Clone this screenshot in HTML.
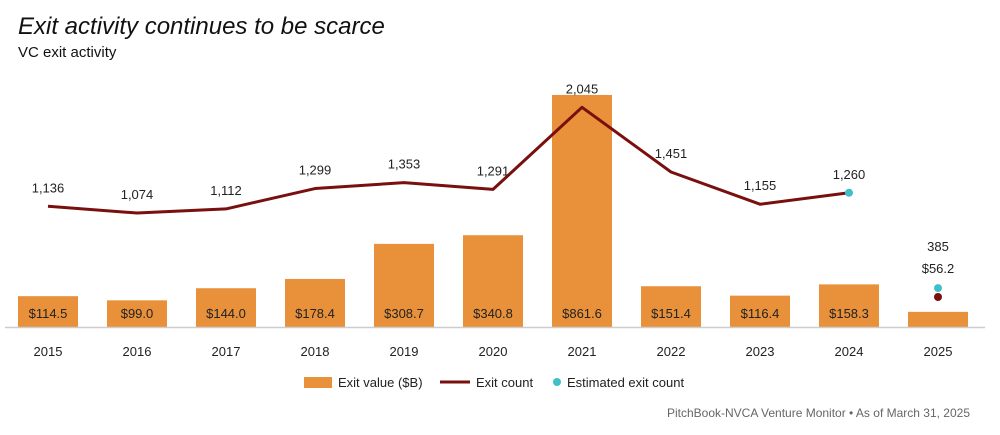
<!DOCTYPE html>
<html><head><meta charset="utf-8"><style>
body{margin:0;background:#fff;font-family:"Liberation Sans",sans-serif;}
#c{position:relative;width:1000px;height:435px;overflow:hidden}
</style></head><body>
<div id="c">
<svg id="s" width="1000" height="435" xmlns="http://www.w3.org/2000/svg">
<text x="18" y="34" font-size="24" font-style="italic" fill="#111">Exit activity continues to be scarce</text>
<text x="18" y="57" font-size="15" fill="#111">VC exit activity</text>
<g id="bars"></g><g id="line"></g><g id="labels"></g>
<line x1="5" x2="985" y1="327.5" y2="327.5" stroke="#ccc" stroke-width="1.5"/>
<g>
<rect x="304" y="377" width="28" height="11" fill="#E8913A"/>
<text x="338" y="387" font-size="13" fill="#222">Exit value ($B)</text>
<line x1="440" x2="470" y1="382" y2="382" stroke="#7A0F0F" stroke-width="3"/>
<text x="476" y="387" font-size="13" fill="#222">Exit count</text>
<circle cx="557" cy="382" r="4" fill="#3FC0C8"/>
<text x="567" y="387" font-size="13" fill="#222">Estimated exit count</text>
</g>
<text x="970" y="417" font-size="12" fill="#666" text-anchor="end">PitchBook-NVCA Venture Monitor  •  As of March 31, 2025</text>
</svg></div>
<script>
const years=["2015","2016","2017","2018","2019","2020","2021","2022","2023","2024","2025"];
const exitValues=[114.5,99.0,144.0,178.4,308.7,340.8,861.6,151.4,116.4,158.3,56.2];
const exitCounts=[1136,1074,1112,1299,1353,1291,2045,1451,1155,1260];
const estimatedCount=[385];
const actualCount2025=[303];
const NS="http://www.w3.org/2000/svg";
const base=327, zero=330;
const xPos=i=>48+i*89;
const yVal=v=>base-v*0.2693;
const yCnt=v=>zero-v*0.1089;
function mk(t,a,p){const e=document.createElementNS(NS,t);for(const k in a)e.setAttribute(k,a[k]);document.getElementById(p).appendChild(e);return e;}
years.forEach((y,i)=>{
 const r=mk('rect',{x:xPos(i)-30,y:yVal(exitValues[i]),width:60,height:base-yVal(exitValues[i]),fill:'#E8913A'},'bars');
 
 
 const yl=mk('text',{x:xPos(i),y:356,'font-size':13,'text-anchor':'middle',fill:'#222'},'labels');
 yl.textContent=y;
 
 
 if(i<10){
  const vl=mk('text',{x:xPos(i),y:318,'font-size':13,'text-anchor':'middle',fill:'#222'},'labels');
  vl.textContent='$'+exitValues[i].toFixed(1);
  
  
 }
});
const pts=exitCounts.map((v,i)=>xPos(i)+','+yCnt(v)).join(' ');
const pl=mk('polyline',{points:pts,fill:'none',stroke:'#7A0F0F','stroke-width':3,'stroke-linejoin':'round'},'line');


exitCounts.forEach((v,i)=>{
 const t=mk('text',{x:xPos(i),y:yCnt(v)-14,'font-size':13,'text-anchor':'middle',fill:'#222'},'labels');
 t.textContent=v.toLocaleString('en-US');
 
 
});
const ld=mk('circle',{cx:xPos(9),cy:yCnt(exitCounts[9]),r:4,fill:'#3FC0C8'},'line');


const ed=mk('circle',{cx:xPos(10),cy:yCnt(estimatedCount[0]),r:4,fill:'#3FC0C8'},'line');


const ad=mk('circle',{cx:xPos(10),cy:yCnt(actualCount2025[0]),r:4,fill:'#7A0F0F'},'line');


const l1=mk('text',{x:xPos(10),y:251,'font-size':13,'text-anchor':'middle',fill:'#222'},'labels');
l1.textContent=estimatedCount[0];


const l2=mk('text',{x:xPos(10),y:273,'font-size':13,'text-anchor':'middle',fill:'#222'},'labels');
l2.textContent='$'+exitValues[10].toFixed(1);


</script></body></html>
